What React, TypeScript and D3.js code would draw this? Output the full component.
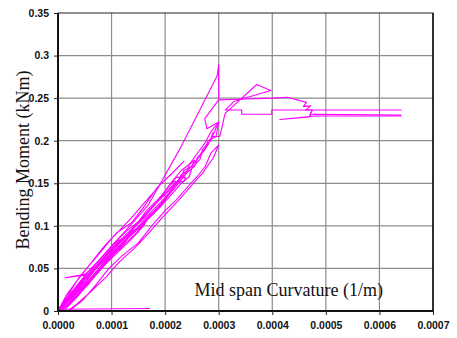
import { useEffect, useRef } from "react";
import * as d3 from "d3";

// curvature in units of 1e-4 (1/m), moment in kNm
const xTicks = [0, 0.0001, 0.0002, 0.0003, 0.0004, 0.0005, 0.0006, 0.0007];
const yTicks = [0, 0.05, 0.1, 0.15, 0.2, 0.25, 0.3, 0.35];
const xTickLabels = ["0.0000", "0.0001", "0.0002", "0.0003", "0.0004", "0.0005", "0.0006", "0.0007"];
const yTickLabels = ["0", "0.05", "0.1", "0.15", "0.2", "0.25", "0.3", "0.35"];

const cycle1 = [[0, 0], [0.12, 0.01], [0.3, 0.018], [0.5, 0.038], [0.75, 0.052], [1.0, 0.074], [1.2, 0.085], [1.1, 0.082], [0.95, 0.064], [0.7, 0.05], [0.45, 0.028], [0.25, 0.016], [0.1, 0.004], [0, 0.001]];
const cycle2 = [[0, 0], [0.25, 0.022], [0.4, 0.026], [0.6, 0.044], [0.85, 0.058], [1.1, 0.078], [1.15, 0.072], [1.35, 0.09], [1.55, 0.098], [1.65, 0.106], [1.5, 0.093], [1.3, 0.08], [1.0, 0.062], [0.8, 0.05], [0.55, 0.032], [0.35, 0.022], [0.2, 0.008], [0.05, 0.001]];
const cycle3 = [[0, 0], [0.2, 0.012], [0.45, 0.032], [0.5, 0.042], [0.13, 0.039], [0.5, 0.043], [0.75, 0.055], [1.0, 0.068], [1.25, 0.087], [1.45, 0.096], [1.6, 0.106], [1.8, 0.118], [1.95, 0.128], [2.05, 0.136], [1.95, 0.125], [1.75, 0.112], [1.55, 0.1], [1.3, 0.085], [1.05, 0.07], [0.85, 0.055], [0.6, 0.038], [0.35, 0.02], [0.15, 0.008], [0, 0]];
const cycle4 = [[0.05, 0], [0.3, 0.014], [0.55, 0.03], [0.8, 0.05], [1.1, 0.07], [1.35, 0.085], [1.6, 0.1], [1.7, 0.112], [1.9, 0.122], [2.05, 0.135], [2.15, 0.145], [2.15, 0.152], [2.35, 0.152], [2.38, 0.157], [2.2, 0.157], [2.1, 0.148], [1.85, 0.13], [1.65, 0.118], [1.45, 0.1], [1.25, 0.083], [1.0, 0.063], [0.75, 0.045], [0.5, 0.027], [0.25, 0.012], [0.08, 0.002]];
const cycle5 = [[0, 0], [0.2, 0.016], [0.45, 0.036], [0.7, 0.052], [0.95, 0.07], [1.2, 0.082], [1.45, 0.1], [1.7, 0.114], [1.95, 0.13], [2.2, 0.148], [2.3, 0.16], [2.42, 0.165], [2.45, 0.172], [2.55, 0.177], [2.5, 0.17], [2.35, 0.165], [2.28, 0.155], [2.05, 0.14], [1.8, 0.125], [1.55, 0.108], [1.3, 0.09], [1.05, 0.075], [0.8, 0.058], [0.55, 0.042], [0.3, 0.022], [0.1, 0.006]];
const cycle6 = [[0.1, 0], [0.35, 0.018], [0.6, 0.038], [0.9, 0.06], [1.2, 0.08], [1.5, 0.098], [1.8, 0.116], [2.05, 0.132], [2.3, 0.15], [2.45, 0.158], [2.5, 0.168], [2.65, 0.178], [2.7, 0.19], [2.85, 0.2], [2.9, 0.21], [2.8, 0.195], [2.6, 0.18], [2.55, 0.17], [2.4, 0.162], [2.2, 0.146], [1.95, 0.128], [1.7, 0.11], [1.4, 0.092], [1.1, 0.072], [0.85, 0.054], [0.6, 0.035], [0.35, 0.016], [0.15, 0.003]];
const cycle7 = [[0, 0.002], [0.3, 0.025], [0.55, 0.045], [0.8, 0.062], [1.05, 0.08], [1.3, 0.095], [1.6, 0.11], [1.85, 0.128], [2.1, 0.145], [2.35, 0.16], [2.6, 0.178], [2.75, 0.19], [2.8, 0.2], [2.95, 0.205], [3.0, 0.222], [2.85, 0.21], [2.75, 0.198], [2.6, 0.185], [2.45, 0.172], [2.3, 0.165], [2.1, 0.15], [1.9, 0.132], [1.65, 0.115], [1.4, 0.098], [1.15, 0.082], [0.9, 0.065], [0.65, 0.045], [0.4, 0.028], [0.15, 0.01], [0, 0.002]];
const cycle8 = [[0, 0], [0.15, 0.018], [0.35, 0.035], [0.6, 0.055], [0.85, 0.075], [1.1, 0.092], [1.38, 0.104], [1.6, 0.122], [1.85, 0.145], [2.1, 0.16], [2.35, 0.176], [2.2, 0.166], [1.9, 0.148], [1.6, 0.126], [1.35, 0.108], [1.0, 0.085], [0.7, 0.062], [0.4, 0.04], [0.15, 0.015], [0, 0]];
const cycle9 = [[0.2, 0], [0.45, 0.012], [0.7, 0.03], [0.95, 0.05], [1.2, 0.065], [1.5, 0.08], [1.75, 0.1], [2.0, 0.118], [2.2, 0.13], [2.45, 0.148], [2.6, 0.158], [2.75, 0.17], [2.85, 0.185], [3.0, 0.195], [2.9, 0.18], [2.7, 0.162], [2.5, 0.148], [2.25, 0.13], [1.95, 0.11], [1.7, 0.092], [1.45, 0.075], [1.15, 0.058], [0.9, 0.04], [0.6, 0.022], [0.35, 0.008], [0.2, 0.001]];
const baseLine = [[0, 0.002], [1.72, 0.003]];
const finalLoad = [[0, 0], [0.25, 0.022], [0.55, 0.045], [0.85, 0.065], [1.2, 0.09], [1.68, 0.124], [2.28, 0.191], [2.97, 0.276], [3.0, 0.289], [3.0, 0.248], [2.74, 0.226], [2.78, 0.214], [3.0, 0.222], [2.88, 0.205], [3.02, 0.205], [3.12, 0.232], [3.71, 0.266], [3.97, 0.259], [3.28, 0.246], [3.12, 0.236], [3.43, 0.236], [3.43, 0.231], [3.99, 0.231], [3.99, 0.236], [6.41, 0.236]];
const plateau = [[3.0, 0.248], [3.5, 0.249], [4.0, 0.25], [4.28, 0.251], [4.64, 0.245], [4.58, 0.24], [4.72, 0.241], [4.62, 0.236], [4.75, 0.236], [4.7, 0.23], [4.76, 0.231], [6.41, 0.23]];
const finalReturn = [[6.41, 0.229], [4.8, 0.229], [4.14, 0.225], [4.7, 0.228], [4.72, 0.234]];

const series = [cycle1, cycle2, cycle3, cycle4, cycle5, cycle6, cycle7, cycle8, cycle9, baseLine, finalLoad, plateau, finalReturn];

export default function App() {
  const ref = useRef<SVGSVGElement>(null);

  useEffect(() => {
    const svg = d3.select(ref.current);
    svg.selectAll("*").remove();
    const width = 457;
    const height = 338;
    const margin = { top: 13, right: 24, bottom: 27, left: 58 };
    const iw = width - margin.left - margin.right;
    const ih = height - margin.top - margin.bottom;

    svg.append("rect").attr("width", width).attr("height", height).attr("fill", "white");

    const x = d3.scaleLinear().domain([0, 0.0007]).range([0, iw]);
    const y = d3.scaleLinear().domain([0, 0.35]).range([ih, 0]);

    const g = svg.append("g").attr("transform", `translate(${margin.left},${margin.top})`);

    // grid
    g.selectAll("line.vg")
      .data(xTicks.slice(1, -1))
      .join("line")
      .attr("x1", d => x(d)).attr("x2", d => x(d))
      .attr("y1", 0).attr("y2", ih)
      .attr("stroke", "#8c8c8c").attr("stroke-width", 1.2);
    g.selectAll("line.hg")
      .data(yTicks.slice(1, -1))
      .join("line")
      .attr("y1", d => y(d)).attr("y2", d => y(d))
      .attr("x1", 0).attr("x2", iw)
      .attr("stroke", "#8c8c8c").attr("stroke-width", 1.2);

    // data
    const line = d3.line<number[]>()
      .x(d => x(d[0] * 1e-4))
      .y(d => y(d[1]));
    g.selectAll("path.s")
      .data(series)
      .join("path")
      .attr("d", d => line(d))
      .attr("fill", "none")
      .attr("stroke", "#ff00ff")
      .attr("stroke-width", 1.1)
      .attr("stroke-linejoin", "round");

    // frame
    g.append("rect")
      .attr("width", iw).attr("height", ih)
      .attr("fill", "none").attr("stroke", "#222").attr("stroke-width", 1);
    g.append("line").attr("x1", 0).attr("x2", 0).attr("y1", 0).attr("y2", ih)
      .attr("stroke", "#111").attr("stroke-width", 2);
    g.append("line").attr("x1", 0).attr("x2", iw).attr("y1", ih).attr("y2", ih)
      .attr("stroke", "#111").attr("stroke-width", 2);
    g.append("line").attr("x1", iw).attr("x2", iw).attr("y1", 0).attr("y2", ih)
      .attr("stroke", "#111").attr("stroke-width", 1.5);

    // axes
    const yAxis = g.append("g")
      .call(d3.axisLeft(y).tickValues(yTicks).tickSize(4).tickSizeOuter(0)
        .tickFormat((_, i) => yTickLabels[i]));
    yAxis.select(".domain").remove();
    yAxis.selectAll("text")
      .attr("font-family", "Liberation Sans, Arial, sans-serif")
      .attr("font-weight", "bold").attr("font-size", 10.5).attr("fill", "#111")
      .attr("dx", "-2");
    yAxis.selectAll("line").attr("stroke", "#222");

    const xAxis = g.append("g")
      .attr("transform", `translate(0,${ih})`)
      .call(d3.axisBottom(x).tickValues(xTicks).tickSize(4).tickSizeOuter(0)
        .tickFormat((_, i) => xTickLabels[i]));
    xAxis.select(".domain").remove();
    xAxis.selectAll("text")
      .attr("font-family", "Liberation Sans, Arial, sans-serif")
      .attr("font-weight", "bold").attr("font-size", 10.5).attr("fill", "#111")
      .attr("dy", "1.05em");
    xAxis.selectAll("line").attr("stroke", "#222");

    // titles
    g.append("text")
      .attr("x", x(0.000255)).attr("y", ih - 15)
      .attr("font-family", "Liberation Serif, Times New Roman, serif")
      .attr("font-size", 18).attr("fill", "#111")
      .text("Mid span Curvature (1/m)");
    svg.append("text")
      .attr("transform", `translate(29,${160}) rotate(-90)`)
      .attr("text-anchor", "middle")
      .attr("font-family", "Liberation Serif, Times New Roman, serif")
      .attr("font-size", 18).attr("fill", "#111")
      .text("Bending Moment  (kNm)");
  }, []);

  return (
    <svg ref={ref} width={457} height={338} style={{ position: "absolute", left: 0, top: 0 }} />
  );
}
